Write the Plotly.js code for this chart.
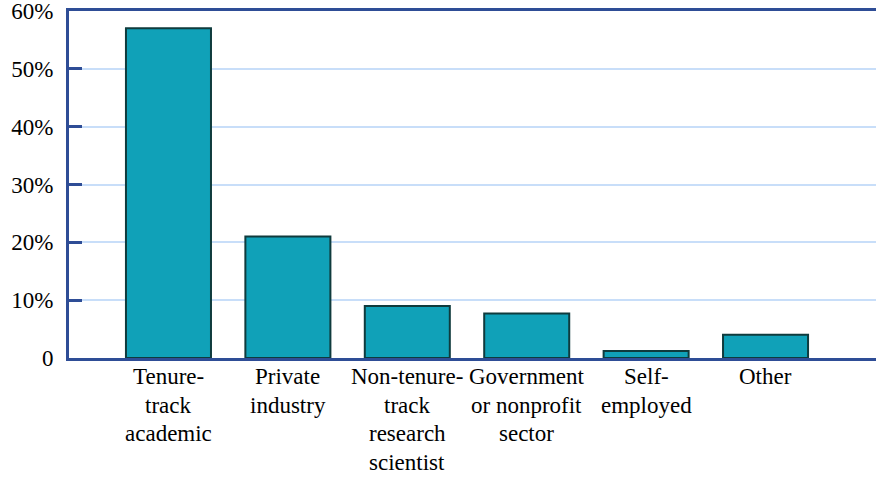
<!DOCTYPE html>
<html>
<head>
<meta charset="utf-8">
<script src="https://cdn.plot.ly/plotly-3.0.1.min.js"></script>
<style>
html,body{margin:0;padding:0;background:#fff;font-family:'Liberation Serif',serif;}
#chart{width:876px;height:477px;}
#chart svg text{font-family:'Liberation Serif','Times New Roman',Times,serif !important;}
#preload{position:absolute;left:0;top:0;font-family:'Liberation Serif';font-size:23px;color:#fff;opacity:0.01;pointer-events:none;}
</style>
</head>
<body>
<div id="preload">Tenure- track academic 0 10% 60%</div>
<div id="chart"></div>
<script>
const categories = ["Tenure-track academic", "Private industry", "Non-tenure-track research scientist", "Government or nonprofit sector", "Self-employed", "Other"];
const categoryLines = [
  ["Tenure-", "track", "academic"],
  ["Private", "industry"],
  ["Non-tenure-", "track", "research", "scientist"],
  ["Government", "or nonprofit", "sector"],
  ["Self-", "employed"],
  ["Other"]
];
const shares = [57, 21, 9, 7.7, 1.2, 4.0];
const yTickVals = [0, 10, 20, 30, 40, 50, 60];
const yTickText = ["0", "10%", "20%", "30%", "40%", "50%", "60%"];

const FONT = "Liberation Serif";
const FS = 23;
const NAVY = "#2e4d96";

const xIdx = categories.map(function (c, i) { return i; });

const annotations = [];
categoryLines.forEach(function (lines, i) {
  lines.forEach(function (txt, j) {
    annotations.push({
      xref: "x", yref: "paper", x: xIdx[i], y: 0,
      xanchor: "center", yanchor: "top",
      yshift: -4 - j * 28.7,
      text: txt, showarrow: false,
      font: {family: FONT, size: FS, color: "#000"}
    });
  });
});

const trace = {
  type: "bar",
  x: xIdx,
  y: shares,
  width: 0.712,
  marker: {color: "#10a1b8", line: {color: "#0f3b3d", width: 2}},
  hoverinfo: "skip"
};

const layout = {
  width: 876, height: 477,
  margin: {l: 69, r: 0, t: 11, b: 119, pad: 0},
  paper_bgcolor: "#fff", plot_bgcolor: "#fff",
  showlegend: false,
  font: {family: FONT, size: FS, color: "#000"},
  xaxis: {
    range: [-0.833, 5.925],
    showticklabels: false, ticks: "",
    showgrid: false, zeroline: false,
    showline: true, mirror: true, linecolor: NAVY, linewidth: 3
  },
  yaxis: {
    range: [0, 60],
    tickvals: yTickVals, ticktext: yTickText,
    ticks: "inside", ticklen: 13, tickwidth: 3, tickcolor: NAVY,
    ticklabelstandoff: 8,
    ticklabeloverflow: "allow",
    showgrid: true, gridcolor: "#c8def9", gridwidth: 2,
    zeroline: false,
    showline: true, linecolor: NAVY, linewidth: 3,
    tickfont: {family: FONT, size: FS, color: "#000"}
  },
  annotations: annotations
};

function draw() {
  return Plotly.newPlot("chart", [trace], layout, {displayModeBar: false, staticPlot: true}).then(function () {
    var p = document.getElementById("preload");
    if (p) { p.textContent = " "; }
  });
}

if (document.fonts && document.fonts.load) {
  document.fonts.load('23px "Liberation Serif"').then(draw, draw);
} else {
  draw();
}
</script>
</body>
</html>
